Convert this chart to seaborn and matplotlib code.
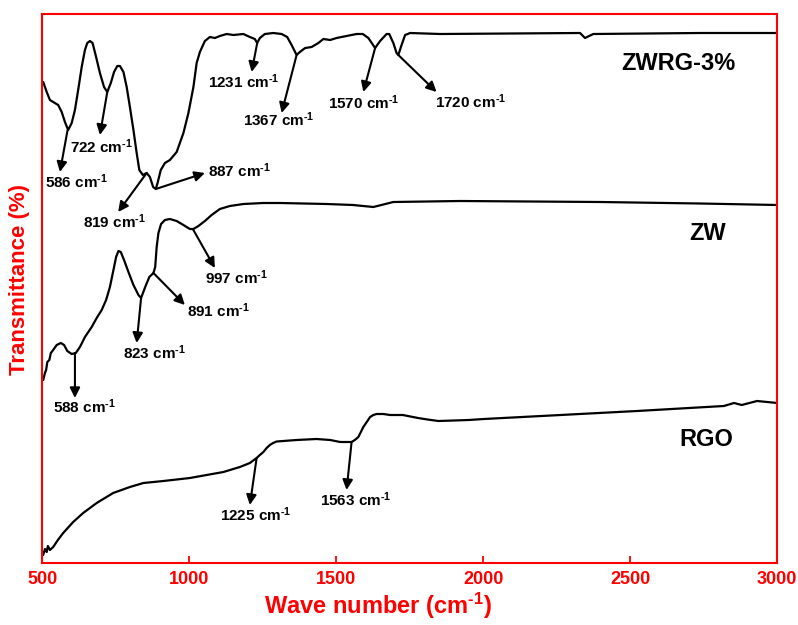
import matplotlib
matplotlib.use("Agg")
import matplotlib.pyplot as plt
import seaborn as sns
import pandas as pd

sns.set_style("white")
plt.rcParams["font.family"] = ["Liberation Sans", "DejaVu Sans"]
plt.rcParams["font.weight"] = "bold"
plt.rcParams["text.color"] = "black"
plt.rcParams["mathtext.fontset"] = "custom"
plt.rcParams["mathtext.rm"] = "Liberation Sans:bold"
plt.rcParams["mathtext.it"] = "Liberation Sans:bold"
plt.rcParams["mathtext.bf"] = "Liberation Sans:bold"
plt.rcParams["mathtext.default"] = "regular"

# FTIR spectra (wavenumber in cm-1, transmittance in offset arbitrary units)
zwrg_wn = [503, 515, 526, 537, 554, 566, 577, 588, 600, 611, 622, 634, 645, 653,
           662, 671, 683, 696, 710, 721, 733, 744, 755, 764, 776, 787, 798, 810,
           821, 830, 842, 855, 866, 877, 886, 892, 903, 917, 934, 957, 980, 997,
           1014, 1025, 1036, 1053, 1070, 1087, 1104, 1127, 1150, 1184, 1206, 1223,
           1231, 1240, 1257, 1286, 1314, 1333, 1348, 1365, 1376, 1394, 1416, 1439,
           1456, 1479, 1501, 1535, 1569, 1590, 1609, 1632, 1649, 1671, 1680, 1694,
           1705, 1711, 1722, 1734, 1751, 1853, 2329, 2346, 2374, 2737, 3000]
zwrg_t = [481, 471, 463, 461, 458, 451, 441, 433, 440, 453, 473, 496, 513, 520,
          522, 520, 506, 490, 476, 471, 480, 491, 497, 497, 491, 476, 456, 433,
          410, 393, 388, 390, 386, 376, 374, 380, 393, 400, 403, 411, 430, 450,
          476, 500, 511, 522, 526, 525, 527, 529, 528, 529, 526, 524,
          520, 525, 529, 530, 529, 526, 518, 508, 511, 515, 516, 520,
          524, 523, 525, 527, 529, 529, 525, 515, 522, 529, 529, 520,
          510, 508, 518, 528, 530, 529, 530, 525, 529, 530, 530]

zw_wn = [503, 509, 513, 517, 524, 529, 537, 549, 563, 574, 585, 600, 614, 628,
         645, 668, 685, 702, 717, 730, 742, 751, 759, 767, 778, 793, 810, 827,
         836, 850, 864, 878, 884, 889, 895, 904, 917, 934, 957, 980, 1002, 1014,
         1031, 1053, 1076, 1104, 1138, 1184, 1252, 1309, 1467, 1557, 1626, 1694,
         1921, 2397, 2737, 3000]
zw_t = [183, 190, 193, 201, 203, 210, 213, 218, 220, 218, 212, 209, 210, 216,
        226, 236, 245, 253, 263, 276, 293, 306, 312, 311, 303, 291, 278, 268,
        265, 276, 286, 290, 296, 316, 330, 339, 343, 344, 342, 338, 334, 334,
        337, 342, 348, 354, 357, 359, 360, 360, 359, 358, 356, 361,
        362, 361, 359.5, 358]

rgo_wn = [503, 509, 515, 519, 526, 537, 553, 571, 605, 639, 685, 741, 798, 844,
          912, 1002, 1059, 1116, 1172, 1206, 1229, 1240, 1252, 1263, 1274, 1285,
          1297, 1365, 1433, 1479, 1513, 1552, 1563, 1575, 1592, 1615, 1626, 1637,
          1660, 1683, 1726, 1778, 1810, 1847, 1900, 1950, 2002, 2263, 2523, 2818,
          2853, 2879, 2931, 3000]
rgo_t = [8, 14, 11, 17, 13, 16, 23, 30, 41, 50, 60, 70, 76, 80,
         82, 85, 88, 91, 96, 100, 105, 108, 111, 115, 118, 120,
         121.5, 123, 124, 123, 121, 121, 123, 126, 136, 146, 148, 149,
         149, 148, 148, 145, 143.5, 142, 142.5, 143, 144, 148, 152, 157,
         160, 158, 162, 160]

series_names = ["ZWRG-3%", "ZW", "RGO"]
series_label_pos = [(2665, 500), (2763, 329), (2758, 123)]

# Band assignments: label, arrow tail on the curve, arrow head, text anchor (left, baseline)
band_labels = ["586", "722", "819", "887", "1231", "1367", "1570", "1720",
               "588", "823", "891", "997", "1225", "1563"]
band_tail = [(586, 433), (721, 471), (855, 390), (886, 374), (1231, 520),
             (1365, 508), (1632, 515), (1711, 508),
             (611, 210), (836, 265), (878, 290), (1012, 334),
             (1229, 105), (1552, 121)]
band_head = [(560, 391), (696, 428), (758, 351), (1053, 390), (1212, 491),
             (1314, 450), (1592, 471), (1841, 471),
             (611, 165), (821, 220), (985, 258), (1087, 295),
             (1206, 58), (1535, 73)]
band_text = [(509, 375), (594, 410), (638, 335), (1064, 386), (1064, 475),
             (1183, 437), (1472, 454), (1836, 455),
             (536, 150), (774, 204), (992, 246), (1053, 279),
             (1104, 42), (1445, 57)]

frames = []
for name, wn, t in [("ZWRG-3%", zwrg_wn, zwrg_t), ("ZW", zw_wn, zw_t), ("RGO", rgo_wn, rgo_t)]:
    frames.append(pd.DataFrame({"wn": wn, "t": t, "sample": name}))
df = pd.concat(frames, ignore_index=True)

fig = plt.figure(figsize=(7.98, 6.25), dpi=100)
ax = fig.add_axes([42.3 / 798, 1 - 563 / 625, 735 / 798, 549 / 625])

sns.lineplot(data=df, x="wn", y="t", units="sample", estimator=None, sort=False,
             color="black", linewidth=1.6, ax=ax, legend=False)
for line in ax.get_lines():
    line.set_solid_joinstyle("round")

ax.set_xlim(500, 3000)
ax.set_ylim(0, 549)
ax.set_xticks([500, 1000, 1500, 2000, 2500, 3000])
ax.set_yticks([])
ax.set_xlabel("")
ax.set_ylabel("")

red = "#ff0000"
for sp in ax.spines.values():
    sp.set_color(red)
    sp.set_linewidth(1.5)
ax.tick_params(axis="x", direction="in", length=5, width=1.3, color=red,
               labelcolor=red, labelsize=13, pad=6, bottom=True, top=False)
for lab in ax.get_xticklabels():
    lab.set_fontweight("bold")

for name, (x, y) in zip(series_names, series_label_pos):
    ax.text(x, y, name, fontsize=17, fontweight="bold", color="black",
            ha="center", va="center")

for lab, tail, head, txt in zip(band_labels, band_tail, band_head, band_text):
    ax.annotate("", xy=head, xytext=tail,
                arrowprops=dict(arrowstyle="-|>", color="black", lw=1.5,
                                mutation_scale=15, shrinkA=0, shrinkB=0))
    ax.text(txt[0], txt[1], lab + r" cm$^{\text{-1}}$", fontsize=11,
            fontweight="bold", color="black", ha="left", va="baseline")

fig.text(378 / 798, 1 - 606 / 625, r"Wave number (cm$^{\text{-1}}$)", color=red,
         fontsize=17, fontweight="bold", ha="center", va="center")
fig.text(20 / 798, 1 - 280 / 625, "Transmittance (%)", color=red, fontsize=16,
         fontweight="bold", rotation=90, ha="center", va="center")

fig.savefig("out.png", dpi=100)
